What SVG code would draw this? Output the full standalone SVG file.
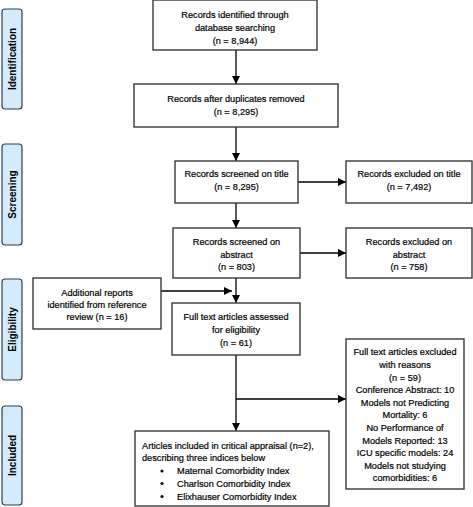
<svg xmlns="http://www.w3.org/2000/svg" width="473" height="507" viewBox="0 0 473 507">
<defs>
<marker id="ah" viewBox="0 0 8 8" refX="8" refY="4" markerWidth="8" markerHeight="8" markerUnits="userSpaceOnUse" orient="auto">
<path d="M0,0 L8,4 L0,8 z" fill="#000"/>
</marker>
</defs>
<style>
.box{fill:#fff;stroke:#3a3a3a;stroke-width:1.4}
.side{fill:#d3ebfa;stroke:#2c3e50;stroke-width:1.2}
text{font-family:"Liberation Sans",Arial,sans-serif;font-size:9.2px;fill:#000;stroke:#000;stroke-width:0.2}
.c{text-anchor:middle}
.st{font-weight:bold;font-size:10px;text-anchor:middle;stroke:none}
.ln{stroke:#000;stroke-width:1.3;fill:none}
</style>
<rect width="473" height="507" fill="#fff"/>
<g id="stage-identification">
<rect class="side" x="2" y="9" width="20" height="100" rx="3"/>
<text class="st" transform="translate(16,59) rotate(-90)">Identification</text>
</g>
<g id="stage-screening">
<rect class="side" x="2" y="144" width="20" height="101" rx="3"/>
<text class="st" transform="translate(16,194.5) rotate(-90)">Screening</text>
</g>
<g id="stage-eligibility">
<rect class="side" x="2" y="279" width="20" height="101" rx="3"/>
<text class="st" transform="translate(16,329.5) rotate(-90)">Eligibility</text>
</g>
<g id="stage-included">
<rect class="side" x="2" y="406" width="20" height="99" rx="3"/>
<text class="st" transform="translate(16,455.5) rotate(-90)">Included</text>
</g>
<g id="connectors">
<line class="ln" x1="236" y1="50" x2="236" y2="84" marker-end="url(#ah)"/>
<line class="ln" x1="236" y1="127" x2="236" y2="161" marker-end="url(#ah)"/>
<line class="ln" x1="298" y1="182" x2="346" y2="182" marker-end="url(#ah)"/>
<line class="ln" x1="236" y1="203" x2="236" y2="228" marker-end="url(#ah)"/>
<line class="ln" x1="300" y1="253" x2="346" y2="253" marker-end="url(#ah)"/>
<line class="ln" x1="236" y1="278" x2="236" y2="303" marker-end="url(#ah)"/>
<line class="ln" x1="161" y1="291" x2="232" y2="291" marker-end="url(#ah)"/>
<line class="ln" x1="236" y1="355" x2="236" y2="431" marker-end="url(#ah)"/>
<line class="ln" x1="236" y1="399" x2="346" y2="399" marker-end="url(#ah)"/>
</g>
<g id="n-identified">
<rect class="box" x="153" y="0" width="164" height="50"/>
<text class="c" x="235" y="17.5">Records identified through</text>
<text class="c" x="235" y="30.5">database searching</text>
<text class="c" x="235" y="44">(n = 8,944)</text>
</g>
<g id="n-deduplicated">
<rect class="box" x="134" y="84" width="204" height="43"/>
<text class="c" x="236" y="102">Records after duplicates removed</text>
<text class="c" x="236" y="114.5">(n = 8,295)</text>
</g>
<g id="n-title">
<rect class="box" x="175" y="161" width="123" height="42"/>
<text class="c" x="236.5" y="177">Records screened on title</text>
<text class="c" x="236.5" y="190">(n = 8,295)</text>
</g>
<g id="n-excl-title">
<rect class="box" x="346" y="161" width="126" height="42"/>
<text class="c" x="409" y="177">Records excluded on title</text>
<text class="c" x="409" y="190">(n = 7,492)</text>
</g>
<g id="n-abstract">
<rect class="box" x="173" y="228" width="127" height="50"/>
<text class="c" x="236.5" y="245">Records screened on</text>
<text class="c" x="236.5" y="258">abstract</text>
<text class="c" x="236.5" y="270">(n = 803)</text>
</g>
<g id="n-excl-abstract">
<rect class="box" x="346" y="228" width="126" height="50"/>
<text class="c" x="409" y="245">Records excluded on</text>
<text class="c" x="409" y="258">abstract</text>
<text class="c" x="409" y="270">(n = 758)</text>
</g>
<g id="n-additional">
<rect class="box" x="33" y="278" width="128" height="51"/>
<text class="c" x="97" y="296">Additional reports</text>
<text class="c" x="97" y="308">identified from reference</text>
<text class="c" x="97" y="320">review (n = 16)</text>
</g>
<g id="n-fulltext">
<rect class="box" x="172" y="303" width="128" height="52"/>
<text class="c" x="236" y="320">Full text articles assessed</text>
<text class="c" x="236" y="333">for eligibility</text>
<text class="c" x="236" y="346">(n = 61)</text>
</g>
<g id="n-excl-fulltext">
<rect class="box" x="346" y="339" width="118" height="150"/>
<text class="c" x="405" y="355">Full text articles excluded</text>
<text class="c" x="405" y="368">with reasons</text>
<text class="c" x="405" y="381">(n = 59)</text>
<text class="c" x="405" y="393">Conference Abstract: 10</text>
<text class="c" x="405" y="406">Models not Predicting</text>
<text class="c" x="405" y="418">Mortality: 6</text>
<text class="c" x="405" y="431">No Performance of</text>
<text class="c" x="405" y="444">Models Reported: 13</text>
<text class="c" x="405" y="456">ICU specific models: 24</text>
<text class="c" x="405" y="469">Models not studying</text>
<text class="c" x="405" y="481">comorbidities: 6</text>
</g>
<g id="n-included">
<rect class="box" x="135" y="431" width="194" height="75"/>
<text x="142" y="449">Articles included in critical appraisal (n=2),</text>
<text x="142" y="461">describing three indices below</text>
<circle cx="162" cy="471" r="1.6" fill="#111"/>
<circle cx="162" cy="483.5" r="1.6" fill="#111"/>
<circle cx="162" cy="496.5" r="1.6" fill="#111"/>
<text x="177" y="474">Maternal Comorbidity Index</text>
<text x="177" y="486.5">Charlson Comorbidity Index</text>
<text x="177" y="500">Elixhauser Comorbidity Index</text>
</g>
</svg>
